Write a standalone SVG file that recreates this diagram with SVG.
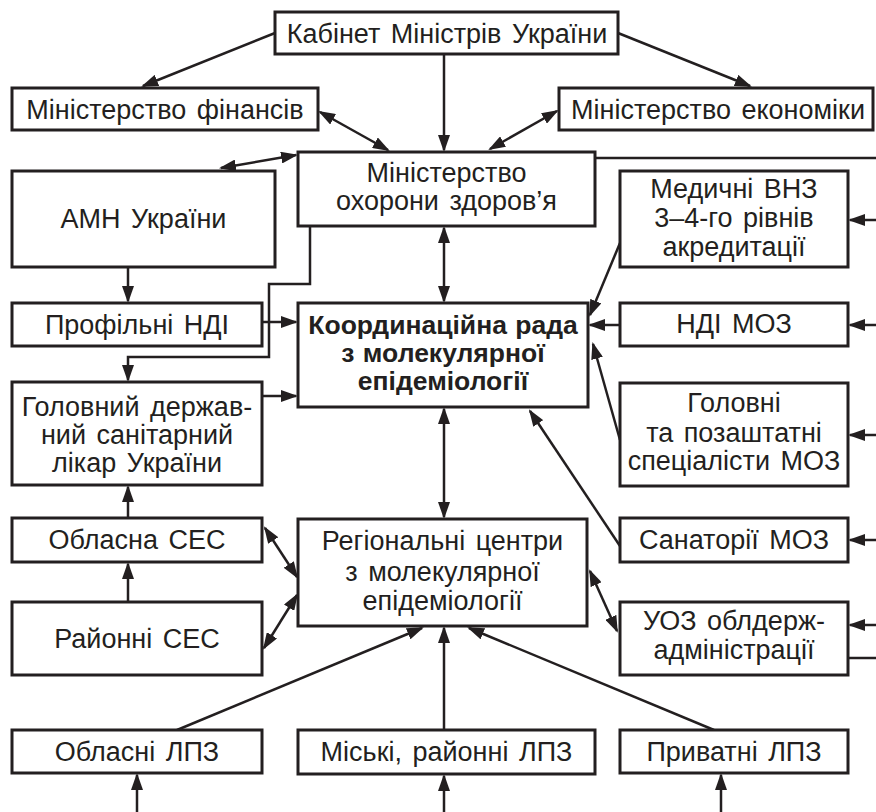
<svg xmlns="http://www.w3.org/2000/svg" width="876" height="812" viewBox="0 0 876 812">
<style>
.box{fill:#fff;stroke:#231f20;stroke-width:3}
.t{font-family:"Liberation Sans",Arial,sans-serif;font-size:27px;fill:#231f20;text-anchor:middle;word-spacing:3px}
.b{font-weight:bold;font-size:26.5px;word-spacing:1px}
.c{fill:none;stroke:#231f20;stroke-width:2.5}
.a{marker-end:url(#ah)}
.d{marker-end:url(#ah);marker-start:url(#ah)}
</style>
<defs>
<marker id="ah" markerUnits="userSpaceOnUse" markerWidth="17" markerHeight="12" refX="15" refY="6" orient="auto-start-reverse">
<path d="M0,0 L17,6 L0,12 z" fill="#231f20"/>
</marker>
</defs>
<rect width="876" height="812" fill="#fff"/>
<g id="connectors">
<line class="c a" x1="275" y1="33" x2="143" y2="86"/>
<line class="c a" x1="618" y1="33" x2="750" y2="86"/>
<line class="c a" x1="444" y1="54" x2="444" y2="150"/>
<line class="c d" x1="320" y1="112" x2="388" y2="150"/>
<line class="c d" x1="490" y1="149" x2="557" y2="111"/>
<line class="c d" x1="296" y1="155" x2="221" y2="168"/>
<line class="c" x1="595" y1="158" x2="876" y2="158"/>
<line class="c a" x1="128" y1="267" x2="128" y2="301"/>
<polyline class="c a" points="310,226 310,284 269,284 269,357 128,357 128,380"/>
<line class="c a" x1="262" y1="322" x2="296" y2="322"/>
<line class="c a" x1="262" y1="396" x2="296" y2="396"/>
<line class="c d" x1="444" y1="228" x2="444" y2="301"/>
<line class="c a" x1="620" y1="243" x2="590" y2="315"/>
<line class="c a" x1="620" y1="325" x2="590" y2="325"/>
<line class="c a" x1="620" y1="440" x2="593" y2="344"/>
<line class="c a" x1="620" y1="546" x2="530" y2="411"/>
<line class="c d" x1="444" y1="409" x2="444" y2="517"/>
<line class="c a" x1="128" y1="518" x2="128" y2="487"/>
<line class="c a" x1="128" y1="602" x2="128" y2="564"/>
<line class="c d" x1="265" y1="528" x2="297" y2="577"/>
<line class="c d" x1="297" y1="595" x2="264" y2="648"/>
<line class="c d" x1="590" y1="571" x2="617" y2="631"/>
<line class="c a" x1="177" y1="730" x2="422" y2="628"/>
<line class="c a" x1="444" y1="730" x2="444" y2="628"/>
<line class="c a" x1="714" y1="730" x2="469" y2="628"/>
<line class="c a" x1="137" y1="812" x2="137" y2="775"/>
<line class="c a" x1="444" y1="812" x2="444" y2="776"/>
<line class="c a" x1="721" y1="812" x2="721" y2="775"/>
<line class="c a" x1="876" y1="220" x2="850" y2="220"/>
<line class="c a" x1="876" y1="325" x2="850" y2="325"/>
<line class="c a" x1="876" y1="435" x2="850" y2="435"/>
<line class="c a" x1="876" y1="540" x2="850" y2="540"/>
<line class="c a" x1="876" y1="625" x2="850" y2="625"/>
<line class="c" x1="848" y1="658" x2="876" y2="658"/>
</g>
<g id="kmu"><rect class="box" x="275" y="12" width="343" height="42"/><text class="t" x="447" y="43">Кабінет Міністрів України</text></g>
<g id="minfin"><rect class="box" x="12" y="88" width="306" height="42"/><text class="t" x="165" y="119">Міністерство фінансів</text></g>
<g id="minekon"><rect class="box" x="559" y="88" width="314" height="42"/><text class="t" x="718" y="119">Міністерство економіки</text></g>
<g id="moz"><rect class="box" x="298" y="152" width="297" height="74"/><text class="t" x="446.5" y="182">Міністерство</text><text class="t" x="446.5" y="210">охорони здоров’я</text></g>
<g id="amn"><rect class="box" x="12" y="171" width="263" height="96"/><text class="t" x="143.5" y="228">АМН України</text></g>
<g id="vnz"><rect class="box" x="620" y="171" width="228" height="96"/><text class="t" x="734" y="198">Медичні ВНЗ</text><text class="t" x="734" y="227">3–4-го рівнів</text><text class="t" x="734" y="256">акредитації</text></g>
<g id="profndi"><rect class="box" x="12" y="303" width="250" height="43"/><text class="t" x="137" y="334">Профільні НДІ</text></g>
<g id="koord"><rect class="box" x="298" y="303" width="290" height="104"/><text class="t b" x="443" y="334">Координаційна рада</text><text class="t b" x="443" y="362">з молекулярної</text><text class="t b" x="443" y="390">епідеміології</text></g>
<g id="ndimoz"><rect class="box" x="620" y="303" width="228" height="43"/><text class="t" x="734" y="333">НДІ МОЗ</text></g>
<g id="golovnyi"><rect class="box" x="12" y="382" width="250" height="103"/><text class="t" x="137" y="416">Головний держав-</text><text class="t" x="137" y="444">ний санітарний</text><text class="t" x="137" y="472">лікар України</text></g>
<g id="golovni"><rect class="box" x="620" y="383" width="228" height="103"/><text class="t" x="734" y="412">Головні</text><text class="t" x="734" y="442">та позаштатні</text><text class="t" x="734" y="470">спеціалісти МОЗ</text></g>
<g id="oblses"><rect class="box" x="12" y="518" width="250" height="44"/><text class="t" x="137" y="549">Обласна СЕС</text></g>
<g id="region"><rect class="box" x="298" y="519" width="289" height="107"/><text class="t" x="442.5" y="550">Регіональні центри</text><text class="t" x="442.5" y="581">з молекулярної</text><text class="t" x="442.5" y="610">епідеміології</text></g>
<g id="sanatorii"><rect class="box" x="620" y="518" width="228" height="44"/><text class="t" x="734" y="549">Санаторії МОЗ</text></g>
<g id="rayses"><rect class="box" x="12" y="602" width="250" height="73"/><text class="t" x="137" y="648">Районні СЕС</text></g>
<g id="uoz"><rect class="box" x="620" y="602" width="228" height="73"/><text class="t" x="734" y="630">УОЗ облдерж-</text><text class="t" x="734" y="659">адміністрації</text></g>
<g id="obllpz"><rect class="box" x="12" y="730" width="250" height="43"/><text class="t" x="137" y="761">Обласні ЛПЗ</text></g>
<g id="miskilpz"><rect class="box" x="298" y="730" width="297" height="44"/><text class="t" x="446.5" y="761">Міські, районні ЛПЗ</text></g>
<g id="pryvlpz"><rect class="box" x="620" y="730" width="228" height="43"/><text class="t" x="734" y="761">Приватні ЛПЗ</text></g>
</svg>
